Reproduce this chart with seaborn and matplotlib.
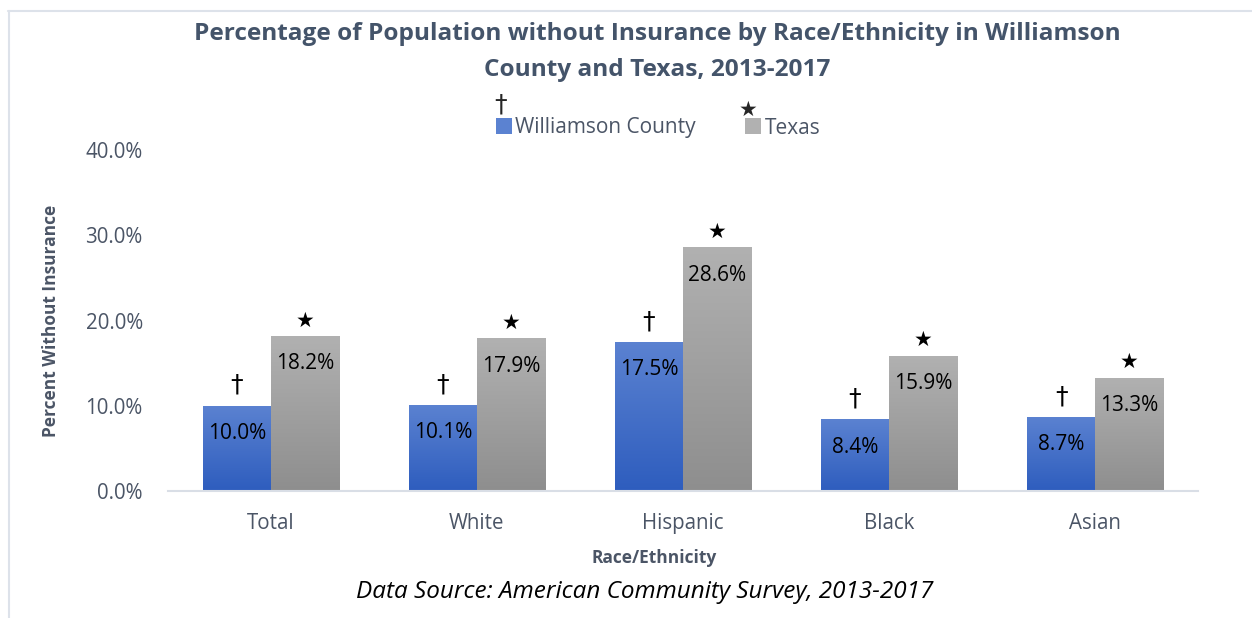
import numpy as np
import pandas as pd
import matplotlib
matplotlib.use("Agg")
import matplotlib.pyplot as plt
import seaborn as sns
from matplotlib.colors import LinearSegmentedColormap
from matplotlib.lines import Line2D

# data
groups = ['Total', 'White', 'Hispanic', 'Black', 'Asian']
williamson = [10.0, 10.1, 17.5, 8.4, 8.7]
texas = [18.2, 17.9, 28.6, 15.9, 13.3]
series = ['Williamson County', 'Texas']
yticks = [0, 10, 20, 30, 40]

df = pd.DataFrame({
    'group': groups * 2,
    'series': [series[0]] * 5 + [series[1]] * 5,
    'value': williamson + texas,
})

sns.set_style('white')
plt.rcParams['font.family'] = ['Open Sans', 'DejaVu Sans']

fig = plt.figure(figsize=(12.52, 6.18), dpi=100)
ax = fig.add_axes([0.134, 0.2055, 0.823, 0.5515])

blue_top, blue_bot = '#5B82D1', '#2E5DBE'
gray_top, gray_bot = '#B1B1B1', '#8E8E8E'

sns.barplot(data=df, x='group', y='value', hue='series', order=groups,
            hue_order=series, palette=[blue_bot, gray_bot], width=0.66,
            gap=0, ax=ax, legend=False, errorbar=None, saturation=1)

# gradient fill for each bar
grad = np.linspace(1, 0, 256).reshape(-1, 1)
n = len(groups)
for i, patch in enumerate(ax.patches[:2 * n]):
    top, bot = (blue_top, blue_bot) if i < n else (gray_top, gray_bot)
    cmap = LinearSegmentedColormap.from_list('g', [bot, top])
    x0, y0 = patch.get_x(), patch.get_y()
    w, h = patch.get_width(), patch.get_height()
    im = ax.imshow(grad, cmap=cmap, aspect='auto',
                   extent=[x0, x0 + w, y0, y0 + h], zorder=patch.get_zorder() + 0.1)
    im.set_clip_path(patch)
    val = patch.get_height()
    ax.annotate(f'{val:.1f}%', (x0 + w / 2, val), xytext=(0, -20),
                textcoords='offset points', ha='center', va='center',
                fontsize=15, color='black', zorder=5)
    sym = '\u2020' if i < n else '\u2605'
    ax.annotate(sym, (x0 + w / 2, val), xytext=(0, 15 if i < n else 11),
                textcoords='offset points', ha='center', va='center',
                fontsize=18 if i < n else 15, color='black', zorder=5,
                family=['DejaVu Sans'])

ax.set_ylim(0, 40)
ax.set_xlim(-0.5, 4.5)

tick_color = '#4B5566'
ax.set_yticks(yticks)
ax.set_yticklabels([f'{t:.1f}%' for t in yticks], fontsize=14.8, color=tick_color)
ax.set_xticks(range(n))
ax.set_xticklabels(groups, fontsize=14.8, color=tick_color)
ax.tick_params(axis='y', length=0, pad=18)
ax.tick_params(axis='x', length=0, pad=16)

for s in ['top', 'right', 'left']:
    ax.spines[s].set_visible(False)
ax.spines['bottom'].set_color('#D9DEE6')
ax.spines['bottom'].set_linewidth(1.5)

ax.set_xlabel('Race/Ethnicity', fontsize=12.5, fontweight='bold', color='#4B5566', labelpad=10)
ax.xaxis.set_label_coords((654 - 168) / 1030, -0.17)
ax.set_ylabel('Percent Without Insurance', fontsize=12.5, fontweight='bold', color='#4B5566', labelpad=22)
ax.yaxis.set_label_coords(-(168 - 60) / 1030, 0.5)

fig.text(0.525, 1 - 52 / 618,
         'Percentage of Population without Insurance by Race/Ethnicity in Williamson\nCounty and Texas, 2013-2017',
         ha='center', va='center', fontsize=17.6, fontweight='bold', color='#44546A', linespacing=1.62)

handles = [Line2D([], [], marker='s', linestyle='', markersize=11, color=blue_top, markeredgewidth=0),
           Line2D([], [], marker='s', linestyle='', markersize=11, color=gray_top, markeredgewidth=0)]
fig.legend(handles, series, loc='center', bbox_to_anchor=(0.526, 1 - 128 / 618), ncol=2, frameon=False,
           fontsize=15, labelcolor=tick_color, handlelength=0.7, handletextpad=0.2,
           columnspacing=2.4)
fig.text(501 / 1252, 1 - 104 / 618, '\u2020', ha='center', va='center', fontsize=18,
         family=['DejaVu Sans'])
fig.text(748 / 1252, 1 - 110 / 618, '\u2605', ha='center', va='center', fontsize=15, family=['DejaVu Sans'])

fig.text(645 / 1252, 1 - 592 / 618, 'Data Source: American Community Survey, 2013-2017',
         ha='center', va='center', fontsize=17.5, style='italic', color='black')

# light frame around the chart area
fig.add_artist(Line2D([8 / 1252, 1.0], [1 - 10.5 / 618] * 2, color='#DDE2EA', lw=1.5))
fig.add_artist(Line2D([8.5 / 1252] * 2, [0.0, 1 - 10.5 / 618], color='#DDE2EA', lw=1.5))

fig.savefig('out.png', dpi=100)
